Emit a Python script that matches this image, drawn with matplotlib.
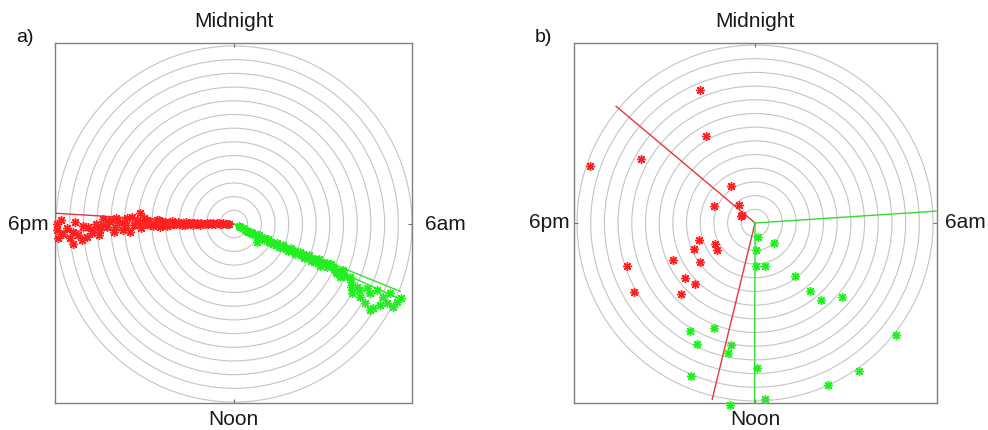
import numpy as np
import matplotlib.pyplot as plt
from matplotlib.patches import Circle

plt.rcParams['font.family'] = ['Liberation Sans', 'DejaVu Sans']

# ring radii (same in both panels)
RINGS = list(range(1, 14))

# panel a) -- hour of day and radius for each point
a_red_hour = [18.09, 18.06, 17.82, 17.87, 17.69, 17.67, 17.53, 17.60, 17.67, 17.75,
              17.93, 17.83, 17.97, 18.12, 17.91, 18.08, 18.20, 17.72, 18.43, 18.03,
              18.17, 17.95, 18.20, 17.86, 18.13, 17.94, 18.09, 18.00, 17.92, 18.06,
              18.14, 18.00, 18.11, 18.29, 18.24, 18.30,
              18.10, 17.95, 18.10, 17.90, 18.15, 18.00, 18.12, 17.92, 18.05, 18.18,
              17.95, 18.10, 17.90, 18.02, 18.12, 17.95, 18.07, 17.98, 18.15, 18.04,
              17.90, 18.12, 17.97, 18.00, 18.20, 18.06, 17.88, 18.10, 17.96, 18.22,
              18.02, 17.90, 18.15, 17.98, 18.25, 17.85, 18.10, 17.95, 18.28, 17.98,
              17.80, 18.05, 18.20, 17.75, 18.10, 17.90, 18.15, 17.70, 18.00, 17.85,
              17.95, 17.72, 17.90, 17.78, 18.00]
a_red_r = [12.6, 11.6, 11.75, 12.96, 12.87, 12.03, 11.83, 11.19, 10.8, 10.42,
           10.64, 9.8, 9.55, 8.94, 8.69, 8.2, 7.85, 7.62, 6.91, 6.99,
           6.39, 6.14, 5.66, 5.41, 5.04, 4.68, 4.31, 3.94, 3.58, 3.21,
           2.73, 2.24, 1.75, 1.27, 0.78, 0.35,
           0.5, 0.6, 0.9, 1.0, 1.1, 1.4, 1.5, 1.6, 1.9, 2.0,
           2.1, 2.4, 2.5, 2.6, 2.9, 3.0, 3.1, 3.4, 3.5, 3.7,
           3.8, 4.1, 4.2, 4.4, 4.5, 4.8, 4.9, 5.2, 5.3, 5.5,
           5.8, 5.9, 6.2, 6.5, 6.6, 6.8, 7.1, 7.3, 7.5, 7.9,
           8.1, 8.4, 8.6, 8.8, 9.2, 9.3, 9.6, 9.9, 10.1, 10.3,
           11.0, 11.4, 12.2, 12.5, 12.9]

a_green_hour = [7.60, 8.53, 8.03, 8.00, 7.80, 7.65, 7.73, 7.60, 7.70, 7.59,
                8.08, 8.08, 7.93, 7.83, 7.83, 8.15, 7.80, 7.52, 7.63, 7.76,
                7.55, 7.53, 7.71,
                8.00, 7.75, 7.95, 7.80, 8.05, 7.70, 7.90, 7.78, 7.95, 7.65,
                7.82, 7.70, 7.90, 7.62, 7.78, 7.68, 7.85, 7.60, 7.72, 7.80,
                7.58, 7.70, 7.62, 7.78, 7.55, 7.68, 7.60, 7.75, 7.52, 7.65,
                7.58, 7.72, 7.50, 7.62, 7.70, 7.55, 7.66, 7.48, 7.60, 7.72,
                7.56, 7.65, 7.50, 7.60, 7.68, 7.58, 7.70, 7.75, 7.90, 7.85, 7.72]
a_green_r = [0.4, 2.1, 9.98, 10.63, 11.15, 11.48, 12.13, 12.47, 13.17, 13.3,
             11.19, 11.9, 12.2, 12.57, 13.1, 11.75, 10.06, 8.67, 9.3, 8.65,
             7.9, 7.35, 8.32,
             0.5, 0.7, 0.9, 1.1, 1.2, 1.4, 1.5, 1.7, 1.9, 2.0,
             2.2, 2.4, 2.5, 2.7, 2.9, 3.0, 3.2, 3.4, 3.5, 3.7,
             3.9, 4.0, 4.2, 4.4, 4.5, 4.7, 4.9, 5.0, 5.2, 5.4,
             5.5, 5.7, 5.9, 6.0, 6.2, 6.4, 6.5, 6.7, 6.9, 7.0,
             7.2, 7.5, 7.7, 8.0, 8.2, 8.5, 8.9, 9.5, 9.7, 10.3, 10.8]

a_red_lines = [18.23, 17.83]
a_green_lines = [7.47, 7.62]
a_line_len = 13.1

# panel b)
b_red_hour = [22.5, 22.03, 19.94, 19.27, 21.81, 19.47, 21.19, 19.67, 16.89, 16.17,
              15.63, 16.48, 15.65, 16.37, 16.77, 15.43, 14.95, 15.09, 16.03, 20.11]
b_red_r = [10.49, 7.27, 9.56, 12.74, 3.19, 3.23, 1.78, 1.15, 4.24, 3.27,
           3.44, 4.83, 4.92, 6.6, 9.83, 6.5, 6.25, 7.49, 10.16, 1.12]

b_green_hour = [11.11, 9.1, 11.86, 11.91, 11.12, 9.53, 9.4, 9.29, 8.69, 8.56,
                14.06, 13.43, 13.72, 12.75, 12.77, 13.52, 11.95, 9.65, 10.38, 11.78, 12.53]
b_green_r = [1.05, 2.02, 1.95, 3.17, 3.2, 4.85, 6.39, 7.37, 8.36, 13.14,
             9.23, 8.21, 9.79, 9.06, 9.69, 12.15, 10.59, 13.2, 13.01, 12.85, 13.45]

b_red_lines = [20.67, 12.91]
b_green_lines = [5.75, 12.01]
b_line_len = 13.25

LABELS = ['Midnight', 'Noon', '6pm', '6am']


def to_xy(hours, radius):
    theta = np.deg2rad(90 - np.asarray(hours, dtype=float) * 15)
    r = np.asarray(radius, dtype=float)
    return r * np.cos(theta), r * np.sin(theta)


def clock_panel(ax, xlim, ylim, label_pos):
    for r in RINGS:
        ax.add_patch(Circle((0, 0), r, fill=False, ec='#c4c4c4', lw=0.8, zorder=1))
    ax.set_xlim(*xlim)
    ax.set_ylim(*ylim)
    ax.set_xticks([0])
    ax.set_yticks([0])
    ax.set_xticklabels([])
    ax.set_yticklabels([])
    ax.tick_params(direction='in', length=3, width=0.8, color='#707070',
                   top=True, right=True)
    for s in ax.spines.values():
        s.set_color('#808080')
        s.set_linewidth(1.0)
    xc, top, bot, lft, rgt, ymid = label_pos
    kw = dict(transform=ax.transAxes, fontsize=15, color='#1a1a1a')
    ax.text(xc, top, LABELS[0], ha='center', va='center', **kw)
    ax.text(xc, bot, LABELS[1], ha='center', va='center', **kw)
    ax.text(lft, ymid, LABELS[2], ha='right', va='center', **kw)
    ax.text(rgt, ymid, LABELS[3], ha='left', va='center', **kw)


def draw(ax, red_h, red_r, green_h, green_r, red_lines, green_lines, length):
    for h in red_lines:
        x, y = to_xy([h, h], [0, length])
        ax.plot(x, y, color='#e8343a', lw=1.0, zorder=3)
    for h in green_lines:
        x, y = to_xy([h, h], [0, length])
        ax.plot(x, y, color='#33dd33', lw=1.0, zorder=3)
    x, y = to_xy(red_h, red_r)
    ax.plot(x, y, ls='none', marker=(8, 2, 0), ms=6.5, mew=1.0, color='#ff2020',
            zorder=4, clip_on=False)
    x, y = to_xy(green_h, green_r)
    ax.plot(x, y, ls='none', marker=(8, 2, 0), ms=6.5, mew=1.0, color='#22ee22',
            zorder=4, clip_on=False)


fig = plt.figure(figsize=(9.88, 4.30), dpi=100)
ax1 = fig.add_axes([55 / 988, 27 / 430, 357 / 988, 360 / 430])
ax2 = fig.add_axes([574 / 988, 27 / 430, 363 / 988, 360 / 430])

clock_panel(ax1, (-13.07, 13.0), (-13.07, 13.22),
            (0.501, 1.061, -0.047, -0.017, 1.036, 0.497))
draw(ax1, a_red_hour, a_red_r, a_green_hour, a_green_r,
     a_red_lines, a_green_lines, a_line_len)

clock_panel(ax2, (-13.22, 13.29), (-13.15, 13.15),
            (0.4986, 1.061, -0.047, -0.011, 1.022, 0.5))
draw(ax2, b_red_hour, b_red_r, b_green_hour, b_green_r,
     b_red_lines, b_green_lines, b_line_len)

fig.text(25 / 988, 1 - 37 / 430, 'a)', fontsize=14, ha='center', va='center', color='#111111')
fig.text(543 / 988, 1 - 37 / 430, 'b)', fontsize=14, ha='center', va='center', color='#111111')

fig.savefig('out.png', dpi=100)
